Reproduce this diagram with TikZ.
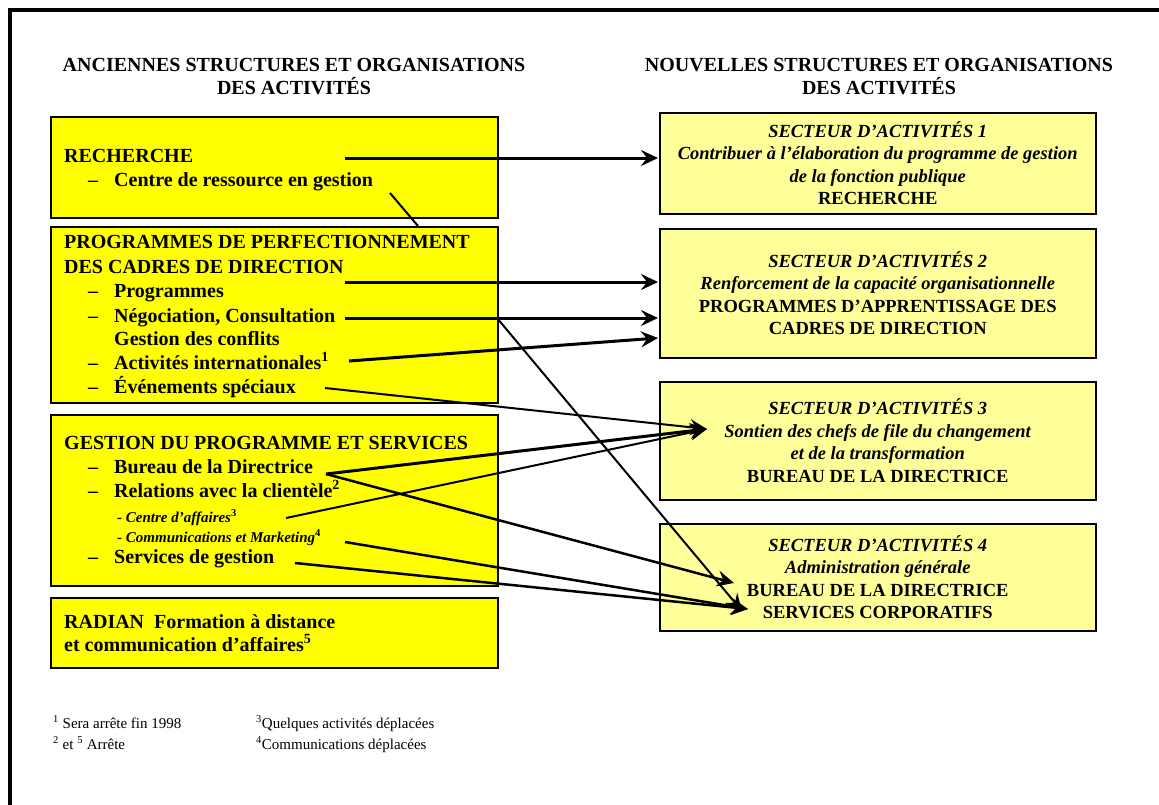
\documentclass[tikz,border=0pt]{standalone}
\usepackage{fontspec}
\setmainfont{Liberation Serif}
\usetikzlibrary{arrows.meta}
\definecolor{ybright}{HTML}{FFFF00}
\definecolor{ylight}{HTML}{FFFF99}
\begin{document}
\begin{tikzpicture}[x=1pt,y=-1pt,
  lbox/.style={draw=black, line width=1.5pt, fill=ybright, anchor=north west, inner sep=0pt},
  rbox/.style={draw=black, line width=1.5pt, fill=ylight, anchor=north west, inner sep=0pt, align=center, minimum width=436pt, font=\fontsize{18.5}{22.5}\selectfont\bfseries},
  ltxt/.style={anchor=base west, inner sep=0pt, font=\fontsize{20}{24}\selectfont\bfseries},
  stxt/.style={anchor=base west, inner sep=0pt, font=\fontsize{15}{18}\selectfont\bfseries\itshape},
  fn/.style={anchor=base west, inner sep=0pt, font=\fontsize{15}{18}\selectfont},
  ttl/.style={align=center, font=\fontsize{20}{23}\selectfont\bfseries, inner sep=0pt},
  arr/.style={-{Stealth[length=17pt,width=16pt,inset=6pt]}, line width=3pt},
  arrthin/.style={-{Stealth[length=17pt,width=16pt,inset=6pt]}, line width=2pt},
  plainln/.style={line width=2pt},
]
\useasboundingbox (0,0) rectangle (1159,804);
\fill[white] (0,0) rectangle (1159,804);
\draw[line width=4pt] (1160,10) -- (10,10) -- (10,805);

% titles
\node[ttl] (tl) at (294,77) {ANCIENNES STRUCTURES ET ORGANISATIONS\\DES ACTIVITÉS};
\node[ttl] (tr) at (879,77) {NOUVELLES STRUCTURES ET ORGANISATIONS\\DES ACTIVITÉS};

% left boxes
\node[lbox, minimum width=447pt, minimum height=101pt] (b1) at (50,116) {};
\node[lbox, minimum width=447pt, minimum height=176pt] (b2) at (50,226) {};
\node[lbox, minimum width=447pt, minimum height=171pt] (b3) at (50,414) {};
\node[lbox, minimum width=447pt, minimum height=70pt] (b4) at (50,597) {};

% left texts
\node[ltxt] (t1) at (64,162) {RECHERCHE};
\node[ltxt] (d1) at (88,186) {–};
\node[ltxt] (t2) at (114,186) {Centre de ressource en gestion};

\node[ltxt] (t3) at (64,248) {PROGRAMMES DE PERFECTIONNEMENT};
\node[ltxt] (t4) at (64,273) {DES CADRES DE DIRECTION};
\node[ltxt] (d2) at (88,297) {–};
\node[ltxt] (t5) at (114,297) {Programmes};
\node[ltxt] (d3) at (88,322) {–};
\node[ltxt] (t6) at (114,322) {Négociation, Consultation};
\node[ltxt] (t7) at (114,345) {Gestion des conflits};
\node[ltxt] (d4) at (88,369) {–};
\node[ltxt] (t8) at (114,369) {Activités internationales\textsuperscript{1}};
\node[ltxt] (d5) at (88,393) {–};
\node[ltxt] (t9) at (114,393) {Événements spéciaux};

\node[ltxt] (t10) at (64,449) {GESTION DU PROGRAMME ET SERVICES};
\node[ltxt] (d6) at (88,473) {–};
\node[ltxt] (t11) at (114,473) {Bureau de la Directrice};
\node[ltxt] (d7) at (88,497) {–};
\node[ltxt] (t12) at (114,497) {Relations avec la clientèle\textsuperscript{2}};
\node[stxt] (t13) at (117,522) {- Centre d’affaires\textsuperscript{\upshape 3}};
\node[stxt] (t14) at (117,542) {- Communications et Marketing\textsuperscript{\upshape 4}};
\node[ltxt] (d8) at (88,563) {–};
\node[ltxt] (t15) at (114,563) {Services de gestion};

\node[ltxt] (t16) at (64,628) {RADIAN\ \ Formation à distance};
\node[ltxt] (t17) at (64,651) {et communication d’affaires\textsuperscript{5}};

% right boxes
\node[rbox, minimum height=101pt] (r1) at (659,112) {\textit{SECTEUR D’ACTIVITÉS 1}\\\textit{Contribuer à l’élaboration du programme de gestion}\\\textit{de la fonction publique}\\RECHERCHE};
\node[rbox, minimum height=129pt] (r2) at (659,228) {\textit{SECTEUR D’ACTIVITÉS 2}\\\textit{Renforcement de la capacité organisationnelle}\\PROGRAMMES D’APPRENTISSAGE DES\\CADRES DE DIRECTION};
\node[rbox, minimum height=118pt] (r3) at (659,381) {\textit{SECTEUR D’ACTIVITÉS 3}\\\textit{Sontien des chefs de file du changement}\\\textit{et de la transformation}\\BUREAU DE LA DIRECTRICE};
\node[rbox, minimum height=107pt] (r4) at (659,523) {\textit{SECTEUR D’ACTIVITÉS 4}\\\textit{Administration générale}\\BUREAU DE LA DIRECTRICE\\SERVICES CORPORATIFS};

% footnotes
\node[fn] (f1) at (53,728) {\textsuperscript{1} Sera arrête fin 1998};
\node[fn] (f2) at (53,749) {\textsuperscript{2} et \textsuperscript{5} Arrête};
\node[fn] (f3) at (256,728) {\textsuperscript{3}Quelques activités déplacées};
\node[fn] (f4) at (256,749) {\textsuperscript{4}Communications déplacées};

% connector endpoints
\coordinate (sRech) at (345,158);
\coordinate (eRech) at (658,158);
\coordinate (sCg1) at (390,193);
\coordinate (sCg2) at (418,226);
\coordinate (sCad) at (345,282);
\coordinate (eCad) at (658,282);
\coordinate (sNeg) at (345,318);
\coordinate (eNeg) at (658,318);
\coordinate (sNegD) at (497,318);
\coordinate (sAct) at (349,361);
\coordinate (eAct) at (658,338);
\coordinate (sEve) at (325,388);
\coordinate (sBur) at (326,474);
\coordinate (sCen) at (286,518);
\coordinate (sCom) at (345,542);
\coordinate (sSer) at (295,563);
\coordinate (eR3) at (707,429);
\coordinate (eR4a) at (734,583);
\coordinate (eR4b) at (748,609);
\coordinate (eR4c) at (742,611);

% connectors
\draw[arr] (sRech) -- (eRech);
\draw[plainln] (sCg1) -- (sCg2);
\draw[arr] (sCad) -- (eCad);
\draw[arr] (sNeg) -- (eNeg);
\draw[arr] (sAct) -- (eAct);
\draw[arrthin] (sNegD) -- (eR4c);
\draw[arrthin] (sEve) -- (eR3);
\draw[arr] (sBur) -- (eR3);
\draw[arrthin] (sCen) -- (eR3);
\draw[arr, line width=2.5pt] (sBur) -- (eR4a);
\draw[arr, line width=2.5pt] (sCom) -- (eR4b);
\draw[arr, line width=2.5pt] (sSer) -- (eR4b);
\end{tikzpicture}
\end{document}
